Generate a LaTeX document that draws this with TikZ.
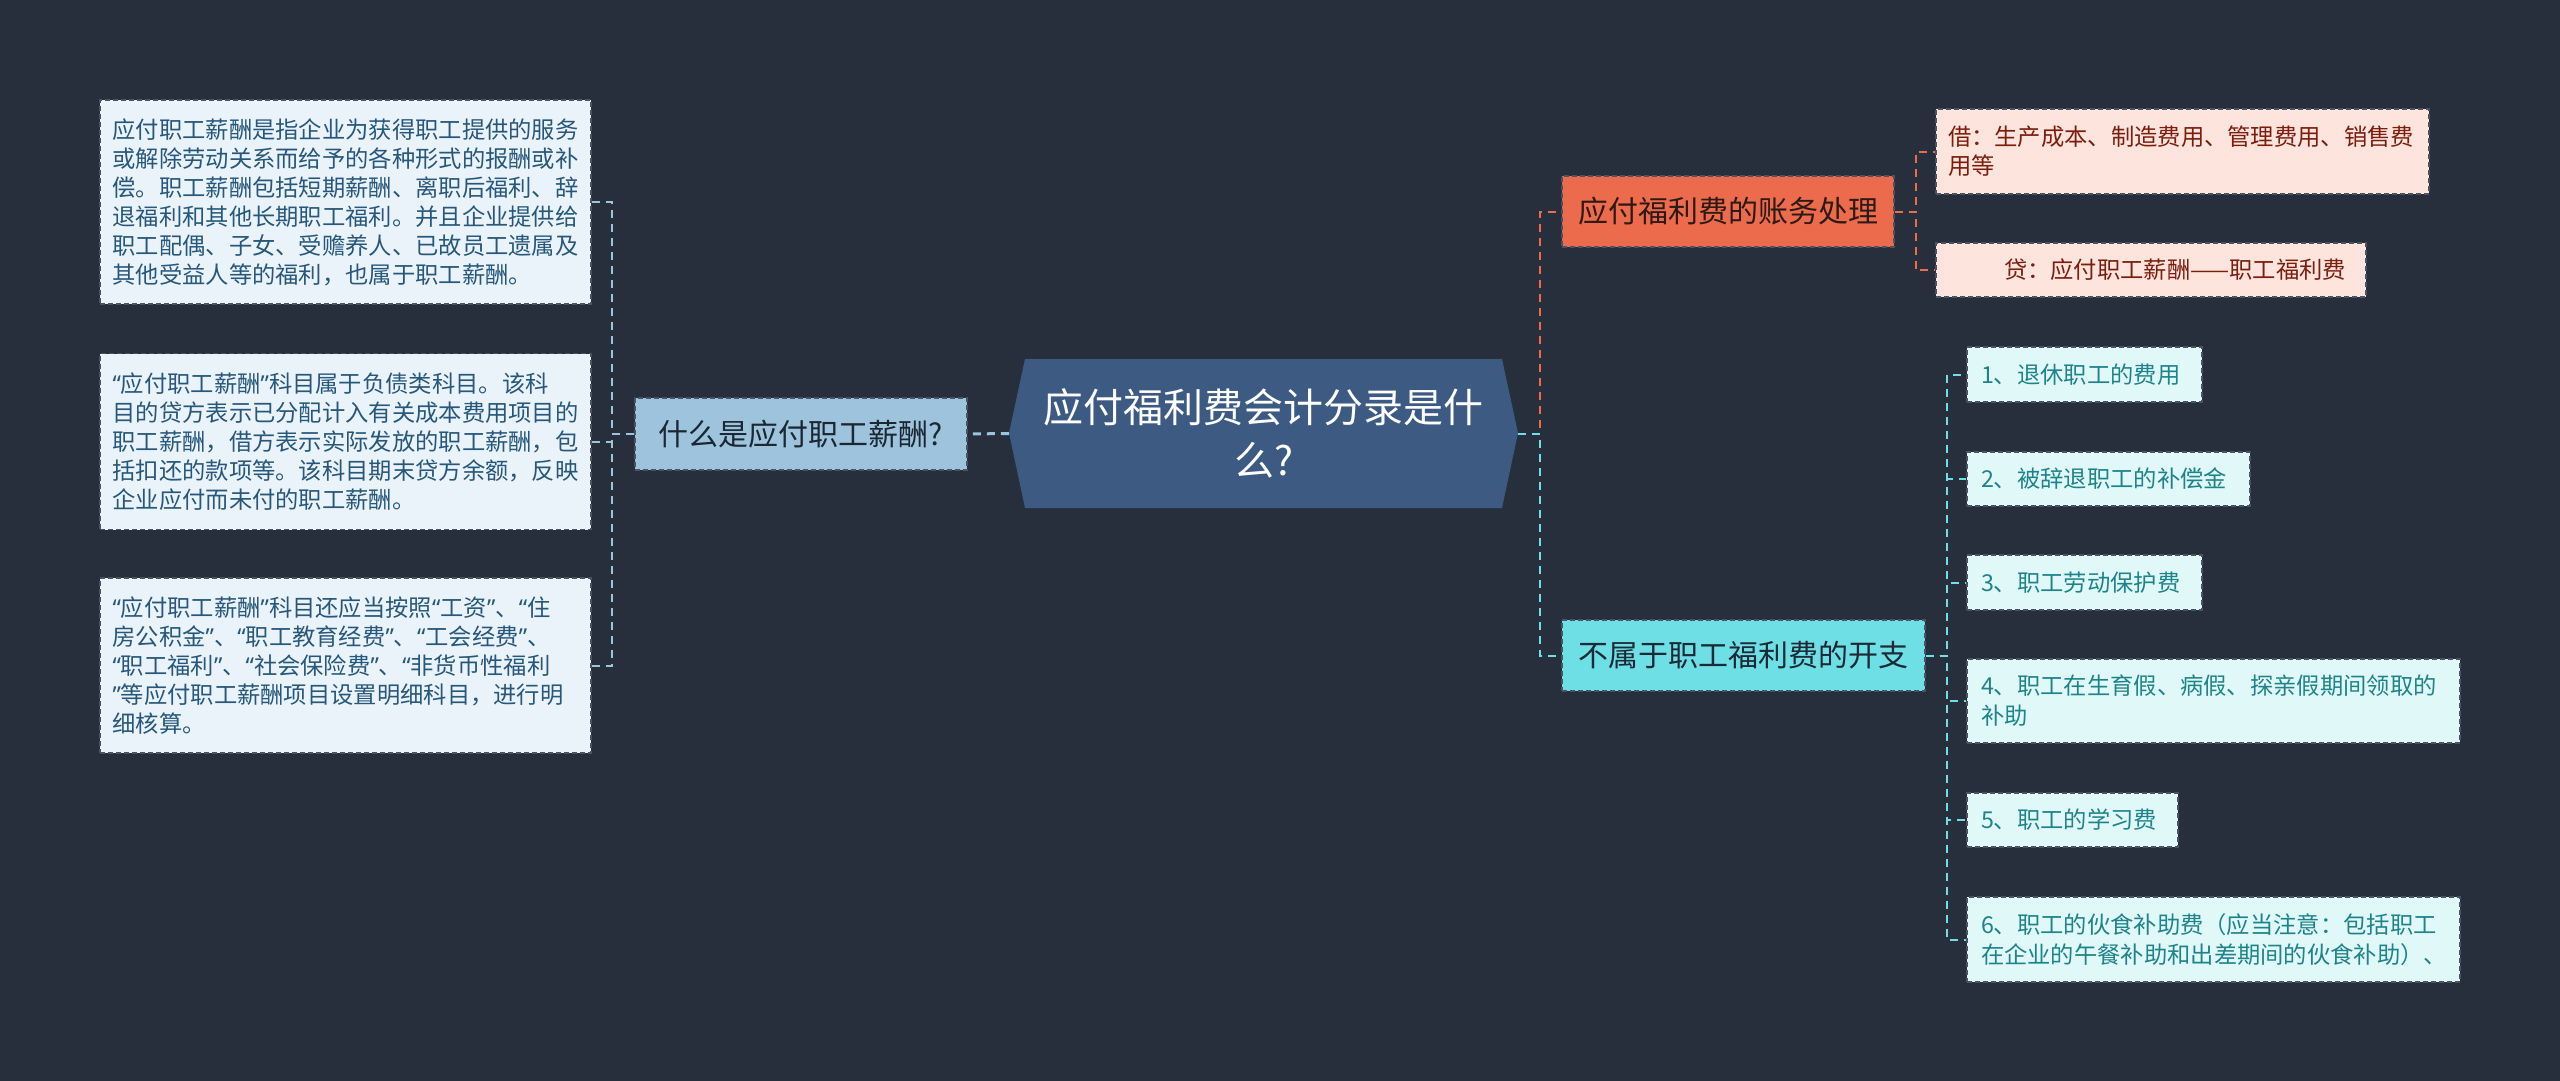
\documentclass[tikz,border=0pt]{standalone}
\usepackage{fontspec}
\setmainfont{Noto Sans CJK SC}
\newfontfamily\qfont{Noto Sans}
\newcommand{\qlx}{{\qfont “}}
\newcommand{\qrx}{{\qfont ”}}
\usetikzlibrary{backgrounds}
\definecolor{bg}{HTML}{272F3D}
\definecolor{cfill}{HTML}{3D5B82}
\definecolor{lonefill}{HTML}{9DC3DD}
\definecolor{lonetext}{HTML}{1B2733}
\definecolor{lleaf}{HTML}{EAF3FA}
\definecolor{lleaftext}{HTML}{27577A}
\definecolor{ronefill}{HTML}{EC6B4D}
\definecolor{ronetext}{HTML}{2E1A14}
\definecolor{pfill}{HTML}{FDE5DE}
\definecolor{ptext}{HTML}{7B1E0E}
\definecolor{rtwofill}{HTML}{6EDFE5}
\definecolor{rtwotext}{HTML}{1B2A36}
\definecolor{ifill}{HTML}{E1F8F9}
\definecolor{itext}{HTML}{1E8489}
\definecolor{bordc}{HTML}{4A5361}
\begin{document}
\begin{tikzpicture}[x=1pt,y=-1pt,
  box/.style={draw=bordc, dash pattern=on 5pt off 3pt, line width=1.4pt, inner ysep=0pt, anchor=center},
  leafl/.style={box, fill=lleaf, text=lleaftext, align=left, inner xsep=12.5pt, text width=466pt, font=\fontsize{23.3}{29}\selectfont},
  lone/.style={box, fill=lonefill, text=lonetext, align=center, font=\fontsize{30}{36}\selectfont},
  rone/.style={box, fill=ronefill, text=ronetext, align=center, font=\fontsize{30}{36}\selectfont},
  rtwo/.style={box, fill=rtwofill, text=rtwotext, align=center, font=\fontsize{30}{36}\selectfont},
  pbox/.style={box, fill=pfill, text=ptext, align=left, inner xsep=12pt, font=\fontsize{23.3}{29}\selectfont},
  ibox/.style={box, fill=ifill, text=itext, align=left, inner xsep=14pt, font=\fontsize{23.3}{30}\selectfont},
  conn/.style={line width=2pt, dash pattern=on 8pt off 6pt},
  lconn/.style={conn, draw=lonefill},
  oconn/.style={conn, draw=ronefill},
  cconn/.style={conn, draw=rtwofill}
]
\fill[bg] (0,0) rectangle (2560,1081);
\useasboundingbox (0,0) rectangle (2560,1081);

% central node
\fill[cfill] (1009,433) -- (1025,359) -- (1502,359) -- (1518,433) -- (1502,508) -- (1025,508) -- cycle;
\node[anchor=center, minimum width=509pt, minimum height=149pt, inner sep=0pt, text=white, align=center, font=\fontsize{40}{53}\selectfont] (c) at (1263.5,433.5) {应付福利费会计分录是什\\么?};

% left branch
\node[lone, minimum width=332pt, minimum height=72pt] (l1) at (801,434) {什么是应付职工薪酬?};
\node[leafl, minimum height=204pt] (a1) at (345.5,202) {应付职工薪酬是指企业为获得职工提供的服务\\或解除劳动关系而给予的各种形式的报酬或补\\偿。职工薪酬包括短期薪酬、离职后福利、辞\\退福利和其他长期职工福利。并且企业提供给\\职工配偶、子女、受赡养人、已故员工遗属及\\其他受益人等的福利，也属于职工薪酬。};
\node[leafl, minimum height=176pt] (a2) at (345.5,441.5) {\qlx 应付职工薪酬\qrx 科目属于负债类科目。该科\\目的贷方表示已分配计入有关成本费用项目的\\职工薪酬，借方表示实际发放的职工薪酬，包\\括扣还的款项等。该科目期末贷方余额，反映\\企业应付而未付的职工薪酬。};
\node[leafl, minimum height=175pt] (a3) at (345.5,665.5) {\qlx 应付职工薪酬\qrx 科目还应当按照\qlx 工资\qrx 、\qlx 住\\房公积金\qrx 、\qlx 职工教育经费\qrx 、\qlx 工会经费\qrx 、\\\qlx 职工福利\qrx 、\qlx 社会保险费\qrx 、\qlx 非货币性福利\\\qrx 等应付职工薪酬项目设置明细科目，进行明\\细核算。};

% right branch level 1
\node[rone, minimum width=332pt, minimum height=71pt] (r1) at (1728,211.5) {应付福利费的账务处理};
\node[rtwo, minimum width=363pt, minimum height=71pt] (r2) at (1743.5,655.5) {不属于职工福利费的开支};

% R1 children
\node[pbox, text width=469pt, minimum height=85pt] (p1) at (2182.5,151.5) {借：生产成本、制造费用、管理费用、销售费\\用等};
\node[pbox, text width=406pt, minimum height=54pt] (p2) at (2151,270) {\hspace*{56pt}贷：应付职工薪酬——职工福利费};

% R2 children
\node[ibox, text width=207pt, minimum height=55pt] (i1) at (2084.5,374.5) {1、退休职工的费用};
\node[ibox, text width=255pt, minimum height=54pt] (i2) at (2108.5,479) {2、被辞退职工的补偿金};
\node[ibox, text width=207pt, minimum height=55pt] (i3) at (2084.5,582.5) {3、职工劳动保护费};
\node[ibox, text width=465pt, minimum height=84pt] (i4) at (2213.5,701) {4、职工在生育假、病假、探亲假期间领取的\\补助};
\node[ibox, text width=183pt, minimum height=54pt] (i5) at (2072.5,820) {5、职工的学习费};
\node[ibox, text width=465pt, minimum height=85pt] (i6) at (2213.5,939.5) {6、职工的伙食补助费（应当注意：包括职工\\在企业的午餐补助和出差期间的伙食补助）、};

% connectors
\draw[lconn, line width=3pt] (c.west) -- (l1.east);
\draw[lconn] (l1.west) -- ++(-22,0) |- (a1.east);
\draw[lconn] (l1.west) -- ++(-22,0) |- (a2.east);
\draw[lconn] (l1.west) -- ++(-22,0) |- (a3.east);

\draw[oconn] (c.east) -- ++(22,0) |- (r1.west);
\draw[cconn] (c.east) -- ++(22,0) |- (r2.west);

\draw[oconn] (r1.east) -- ++(21,0) |- (p1.west);
\draw[oconn] (r1.east) -- ++(21,0) |- (p2.west);

\draw[cconn] (r2.east) -- ++(21,0) |- (i1.west);
\draw[cconn] (r2.east) -- ++(21,0) |- (i2.west);
\draw[cconn] (r2.east) -- ++(21,0) |- (i3.west);
\draw[cconn] (r2.east) -- ++(21,0) |- (i4.west);
\draw[cconn] (r2.east) -- ++(21,0) |- (i5.west);
\draw[cconn] (r2.east) -- ++(21,0) |- (i6.west);
\end{tikzpicture}
\end{document}
